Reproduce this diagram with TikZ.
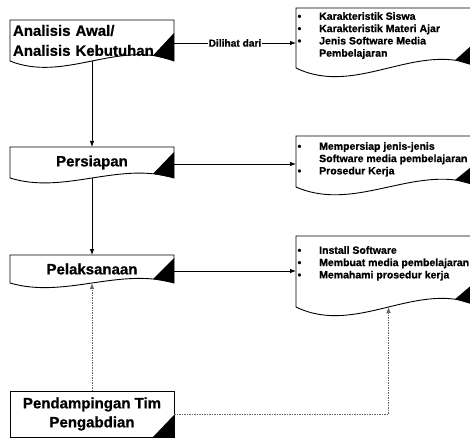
\documentclass[tikz,border=0pt]{standalone}
\usepackage{fontspec}
\setmainfont{Liberation Sans}[BoldFeatures={FakeBold=0.8}]
\usetikzlibrary{arrows.meta,calc}
\newcommand\docoutline[5]{%
  \draw[boxline] (#1.south west) -- (#1.north west) -- (#1.north east) -- (#1.south east)
    .. controls ($(#1.south west)!0.667!(#1.south east)+(0,#2)$) and ($(#1.south west)!0.333!(#1.south east)+(0,-#2)$) .. (#1.south west) -- cycle;
  \fill ($(#1.south east)+(0,#3)$) -- (#1.south east) -- ($(#1.south east)+(-#4,#5)$) -- cycle;
}
\newcommand\itembul{\makebox[21.6pt][l]{\textbullet}}
\begin{document}
\begin{tikzpicture}[x=1pt,y=1pt,
  boxline/.style={draw=black, line width=0.9pt},
  body/.style={inner sep=0pt, outer sep=0pt, minimum width=164pt},
  bigtext/.style={font=\bfseries\fontsize{15}{20}\selectfont},
  rbody/.style={inner sep=0pt, outer sep=0pt, minimum width=185pt},
  rtext/.style={font=\bfseries\fontsize{10.5}{12.3}\selectfont, align=left, inner sep=0pt, anchor=north west},
  lbltext/.style={font=\bfseries\fontsize{10.2}{12}\selectfont, fill=white, inner sep=1pt},
  arr/.style={line width=0.8pt, -{Latex[length=6pt,width=4.5pt]}},
  dasharr/.style={line width=0.8pt, draw=black!60, dash pattern=on 1.5pt off 1pt, -{Latex[length=6pt,width=4.5pt]}},
]
\useasboundingbox (0,0) rectangle (470,-438);
\clip (0,0) rectangle (470,-438);

% left boxes
\node[body, bigtext, align=left, text width=158pt, inner xsep=3pt, minimum height=41pt] (b1) at (92,-40.5) {Analisis Awal/\\Analisis Kebutuhan};
\node[body, bigtext, minimum height=31pt] (b2) at (92,-162.5) {Persiapan};
\node[body, bigtext, minimum height=28pt] (b3) at (92,-269) {Pelaksanaan};
\node[body, bigtext, align=center, minimum height=46pt, font=\bfseries\fontsize{15}{19}\selectfont] (b4) at (92,-414) {Pendampingan Tim\\Pengabdian};

\docoutline{b1}{22}{28}{21}{5.5}
\docoutline{b2}{17}{26}{21}{4.2}
\docoutline{b3}{16}{25}{21}{4}
\draw[boxline] (b4.south west) rectangle (b4.north east);
\fill ($(b4.south east)+(0,22)$) -- (b4.south east) -- ($(b4.south east)+(-21,0)$) -- cycle;

% right boxes
\node[rbody, minimum height=60pt] (r1) at (388.5,-38) {};
\node[rbody, minimum height=51pt] (r2) at (388.5,-161.5) {};
\node[rbody, minimum height=71pt] (r3) at (388.5,-271.5) {};
\docoutline{r1}{30}{31}{26}{7.8}
\docoutline{r2}{27}{28}{26}{7}
\docoutline{r3}{30}{30}{26}{7.8}

\node[rtext] (t1) at (297.4,-12) {\itembul Karakteristik Siswa\\\itembul Karakteristik Materi Ajar\\\itembul Jenis Software Media\\\hspace*{21.6pt}Pembelajaran};
\node[rtext] (t2) at (297.4,-142) {\itembul Mempersiap jenis-jenis\\\hspace*{21.6pt}Software media pembelajaran\\\itembul Prosedur Kerja};
\node[rtext] (t3) at (297.4,-246) {\itembul Install Software\\\itembul Membuat media pembelajaran\\\itembul Memahami prosedur kerja};

% connectors
\draw[arr] (b1.south) -- (b2.north);
\draw[arr] (b2.south) -- (b3.north);
\draw[dasharr] (b4.north) -- (b3.south);
\draw[dasharr] (b4.east) -| (r3.south);
\coordinate (d1) at ($(b1.east)+(0,-2.5)$);
\draw[arr] (d1) -- (d1 -| r1.west) node[midway, lbltext] (lbl) {Dilihat dari};
\coordinate (d2) at ($(b2.east)+(0,-1.5)$);
\draw[arr] (d2) -- (d2 -| r2.west);
\coordinate (d3) at ($(b3.east)+(0,-2)$);
\draw[arr] (d3) -- (d3 -| r3.west);
\end{tikzpicture}
\end{document}
